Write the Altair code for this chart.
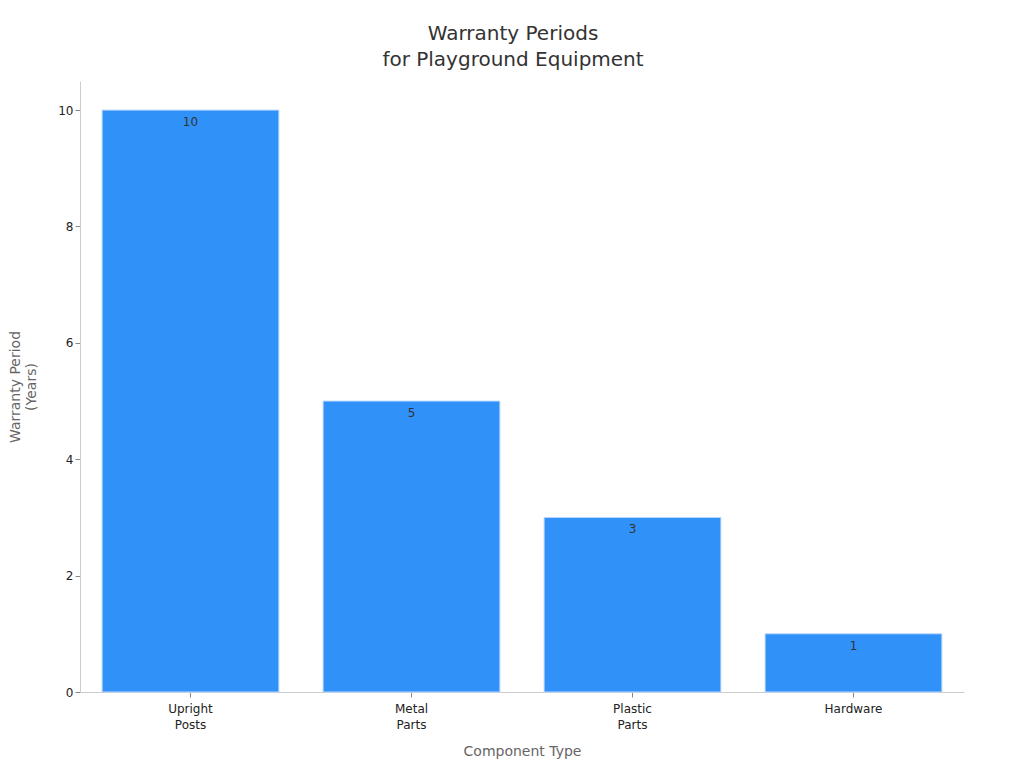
import altair as alt
import pandas as pd

components = ["Upright Posts", "Metal Parts", "Plastic Parts", "Hardware"]
years = [10, 5, 3, 1]

df = pd.DataFrame({"Component": components, "Years": years})

FONT = "DejaVu Sans"

base = alt.Chart(df).encode(
    x=alt.X(
        "Component:N",
        sort=components,
        title="Component Type",
        scale=alt.Scale(paddingInner=0.2, paddingOuter=0.1),
        axis=alt.Axis(
            labelAngle=0,
            labelExpr="split(datum.label, ' ')",
            labelFont=FONT,
            labelFontSize=12,
            labelLineHeight=16,
            labelColor="#222222",
            titleFont=FONT,
            titleFontSize=14,
            titleFontWeight="normal",
            titleColor="#666666",
            titlePadding=14,
            domainColor="#cccccc",
            tickColor="#888888",
            tickSize=5,
            labelPadding=6,
        ),
    ),
    y=alt.Y(
        "Years:Q",
        title=["Warranty Period", "(Years)"],
        scale=alt.Scale(domain=[0, 10.5], nice=False),
        axis=alt.Axis(
            values=[0, 2, 4, 6, 8, 10],
            grid=False,
            labelFont=FONT,
            labelFontSize=12,
            labelColor="#222222",
            titleFont=FONT,
            titleFontSize=14,
            titleFontWeight="normal",
            titleColor="#666666",
            titlePadding=19,
            domainColor="#cccccc",
            tickColor="#888888",
            tickSize=5,
        ),
    ),
)

bars = base.mark_bar(color="#3091F8", stroke="#bcd9fb", strokeWidth=1)
labels = base.mark_text(
    baseline="top", dy=7, font=FONT, fontSize=12, color="#333333"
).encode(text="Years:Q")

chart = (
    (bars + labels)
    .properties(
        width=884,
        height=611,
        padding={"left": 0, "top": 16, "right": 5, "bottom": 5},
        title=alt.TitleParams(
            text=["Warranty Periods", "for Playground Equipment"],
            font=FONT,
            fontSize=20,
            lineHeight=26,
            fontWeight="normal",
            color="#333333",
            anchor="middle",
            dx=-9,
            offset=11,
        ),
    )
    .configure_view(stroke=None)
)

chart.save("out.html", embed_options={"renderer": "svg", "actions": False})
